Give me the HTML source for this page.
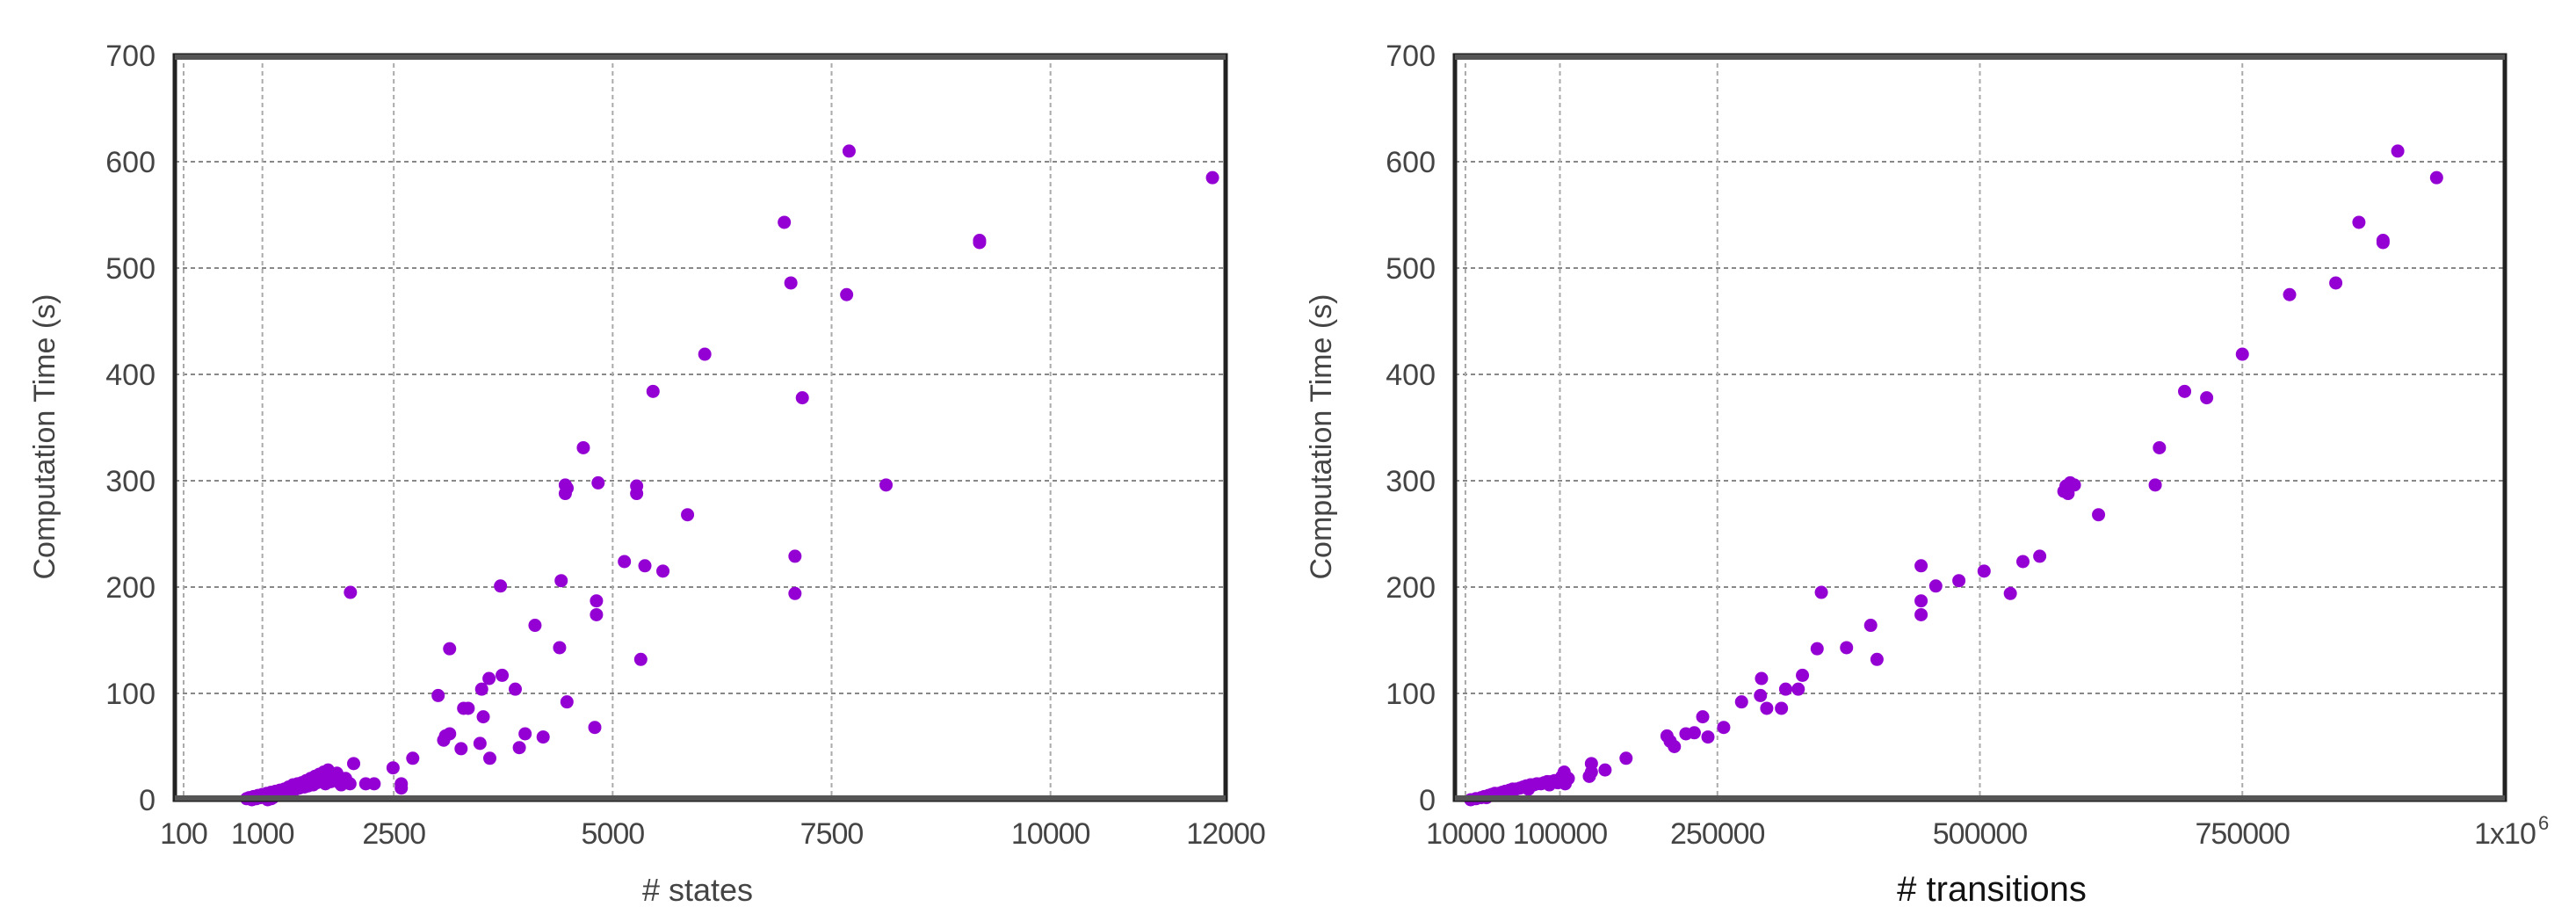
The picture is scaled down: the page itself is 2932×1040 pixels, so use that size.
<!DOCTYPE html>
<html><head><meta charset="utf-8"><style>
html,body{margin:0;padding:0;background:#fff;}
svg{display:block;}
text{font-family:"Liberation Sans",sans-serif;}
</style></head><body>
<svg id="chart" width="2932" height="1040" viewBox="0 0 2932 1040" xmlns="http://www.w3.org/2000/svg">
<g id="left"></g>
<g id="right"></g>
</svg>
<script>
const yTicks = [0,100,200,300,400,500,600,700];
const statesTicks = [100,1000,2500,5000,7500,10000,12000];
const statesTickLabels = ["100","1000","2500","5000","7500","10000","12000"];
const transTicks = [10000,100000,250000,500000,750000,1000000];
const transTickLabels = ["10000","100000","250000","500000","750000","1x10"];
const statesX = [7700,11850,6960,9190,9190,7035,7672,6052,5461,7166,4665,4459,4459,4480,4834,5274,5274,8122,5855,7082,5134,5368,5574,4412,3719,2005,7082,4815,4815,4113,3138,4394,5321,3738,3588,3888,3504,3007,4478,3298,3350,3522,3091,3138,3070,4000,4796,4206,3485,3269,3934,3597,2717,2492,2586,2586,2042,2276,2180,
820,850,880,900,930,950,980,1000,1020,1050,1080,1100,1120,1150,1180,1200,1230,1250,1280,1300,1330,1350,1380,1400,1420,1450,1480,1500,1520,1550,1580,1600,1620,1650,1680,1700,1720,1750,1780,1800,1820,1850,1880,1900,1950,2000,1060,1100];
const statesTime = [610,585,543,526,524,486,475,419,384,378,331,296,288,293,298,295,288,296,268,229,224,220,215,206,201,195,194,187,174,164,142,143,132,117,114,104,104,98,92,86,86,78,60,62,56,62,68,59,53,48,49,39,39,30,15,11,34,15,15,
1,2,0,3,1,4,2,5,3,6,4,7,2,8,5,9,6,10,7,12,8,14,10,15,11,16,12,18,13,20,14,22,16,24,18,26,15,28,17,22,19,25,16,14,20,15,0,1];
const transX = [898000,935000,861000,884000,884000,839000,795000,750000,695000,716000,671000,667000,580000,582000,586000,590000,584000,613000,557000,541000,444000,480000,458000,504000,349000,529000,444000,444000,396000,345000,373000,402000,331000,315000,327000,292000,291000,273000,297000,311000,236000,256000,202000,205000,209000,220000,228000,241000,163000,130000,130000,128000,143000,108000,105000,
15000,20000,25000,28000,32000,35000,38000,42000,45000,48000,52000,55000,58000,62000,65000,68000,72000,75000,78000,82000,85000,88000,92000,95000,98000,100000,102000,104000,30000,50000,70000,90000];
const transTime = [610,585,543,526,524,486,475,419,384,378,331,296,290,295,298,296,288,268,229,224,220,206,201,215,195,194,187,174,164,142,143,132,117,104,104,114,98,92,86,86,78,68,60,55,50,62,63,59,39,34,26,22,28,20,15,
0,1,2,3,4,5,6,6,7,8,9,10,10,11,12,13,14,14,15,15,16,17,17,18,16,19,22,26,2,6,10,14];

const NS='http://www.w3.org/2000/svg';
function mk(parent,tag,attrs){const e=document.createElementNS(NS,tag);for(const k in attrs)e.setAttribute(k,attrs[k]);parent.appendChild(e);return e;}

function drawChart(g, cfg){
  const L=cfg.left,R=cfg.right,T=63,B=910;
  const xs=v=>L+(v-cfg.xmin)/(cfg.xmax-cfg.xmin)*(R-L);
  const ys=v=>B-v/700*(B-T);
  yTicks.forEach(v=>{
    if(v>0&&v<700){const l=mk(g,'line',{x1:L,x2:R,y1:ys(v),y2:ys(v),stroke:'#888','stroke-width':2,'stroke-dasharray':'5,4'});
    
    }
    const t=mk(g,'text',{x:L-22,y:ys(v)+12,'text-anchor':'end','font-size':34,fill:'#444'});
    t.textContent=v;
    
    
  });
  cfg.ticks.forEach((v,i)=>{
    const x=xs(v);
    if(x<R-3){const l=mk(g,'line',{x1:x,x2:x,y1:T,y2:B,stroke:'#aaa','stroke-width':2,'stroke-dasharray':'5,4'});
    
    }
    const t=mk(g,'text',{x:x,y:960,'text-anchor':'middle','font-size':34,fill:'#444','letter-spacing':-1});
    t.textContent=cfg.labels[i];
    
    
    if(cfg.labels[i]==='1x10'){
      const s=mk(g,'text',{x:x+38,y:944,'font-size':22,fill:'#444'});
      s.textContent='6';
      
      
    }
  });
  cfg.xv.forEach((v,i)=>{
    const c=mk(g,'circle',{cx:xs(v),cy:ys(cfg.yv[i]),r:7.5,fill:'#9400d3'});
    
    
  });
  const f=mk(g,'rect',{x:L,y:T,width:R-L,height:B-T,fill:'none',stroke:'#222','stroke-width':5});
  
  
  mk(g,'line',{x1:L,x2:R,y1:T+2,y2:T+2,stroke:'#555','stroke-width':6});
  mk(g,'line',{x1:L,x2:R,y1:B-2,y2:B-2,stroke:'#555','stroke-width':6});
  const yt=mk(g,'text',{x:0,y:0,transform:`translate(${cfg.ytx},497) rotate(-90)`,'text-anchor':'middle','font-size':34,fill:'#444'});
  yt.textContent='Computation Time (s)';
  
  
  const xt=mk(g,'text',{x:cfg.xtx,y:1025,'text-anchor':'middle','font-size':cfg.xtSize,fill:cfg.xtFill,'font-family':cfg.xtFont});
  xt.textContent=cfg.xtitle;
  
  
}
drawChart(document.getElementById('left'),{left:199,right:1395,xmin:0,xmax:12000,ticks:statesTicks,labels:statesTickLabels,xv:statesX,yv:statesTime,ytx:62,xtx:794,xtitle:'# states',xtSize:36,xtFill:'#444',xtFont:'Liberation Sans, sans-serif'});
drawChart(document.getElementById('right'),{left:1656,right:2851,xmin:0,xmax:1000000,ticks:transTicks,labels:transTickLabels,xv:transX,yv:transTime,ytx:1515,xtx:2267,xtitle:'# transitions',xtSize:40,xtFill:'#111',xtFont:'DejaVu Sans Condensed, DejaVu Sans, sans-serif'});
</script>
</body></html>
